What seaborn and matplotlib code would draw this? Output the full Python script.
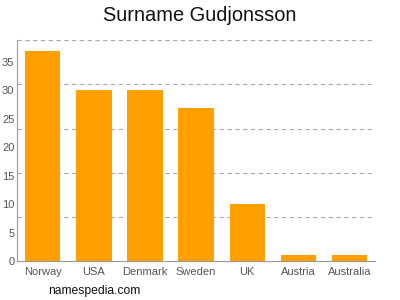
import matplotlib
matplotlib.use("Agg")
import matplotlib.pyplot as plt
import seaborn as sns
import pandas as pd

countries = ["Norway", "USA", "Denmark", "Sweden", "UK", "Austria", "Australia"]
counts = [37, 30, 30, 27, 10, 1, 1]
yticks = [0, 5, 10, 15, 20, 25, 30, 35]

sns.set_style("white")
plt.rcParams['font.family'] = ['Liberation Sans', 'DejaVu Sans']

df = pd.DataFrame({"country": countries, "count": counts})

fig = plt.figure(figsize=(4, 3), dpi=100)
ax = fig.add_axes([0.043, 0.13, 0.8945, 0.736])
sns.barplot(data=df, x="country", y="count", color="#FFA000", saturation=1,
            width=0.69, linewidth=0, ax=ax)

top = 38.85
ax.set_ylim(0, top)
ax.set_xlim(-0.5, 6.5)
for i in range(1, 6):
    ax.axhline(top * i / 5, color="#aaaaaa", lw=0.8, ls=(0, (4, 3)), zorder=0)

ax.set_yticks(yticks)
ax.set_yticklabels([str(t) for t in yticks])
ax.set_xlabel("")
ax.set_ylabel("")
for s in ["top", "right"]:
    ax.spines[s].set_visible(False)
for s in ["left", "bottom"]:
    ax.spines[s].set_color("#999999")
    ax.spines[s].set_linewidth(0.8)
ax.tick_params(axis="x", colors="#999999", labelcolor="#555555", labelsize=8,
               length=3, width=0.8, pad=1)
ax.tick_params(axis="y", colors="#999999", labelcolor="#555555", labelsize=8,
               length=0, pad=2)

fig.text(0.5, 0.948, "Surname Gudjonsson", ha="center", va="center", fontsize=14.4, color="#111111")
fig.text(0.12, 0.03, "namespedia.com", ha="left", va="center", fontsize=8.7, color="#111111")

fig.savefig("out.png", dpi=100)
